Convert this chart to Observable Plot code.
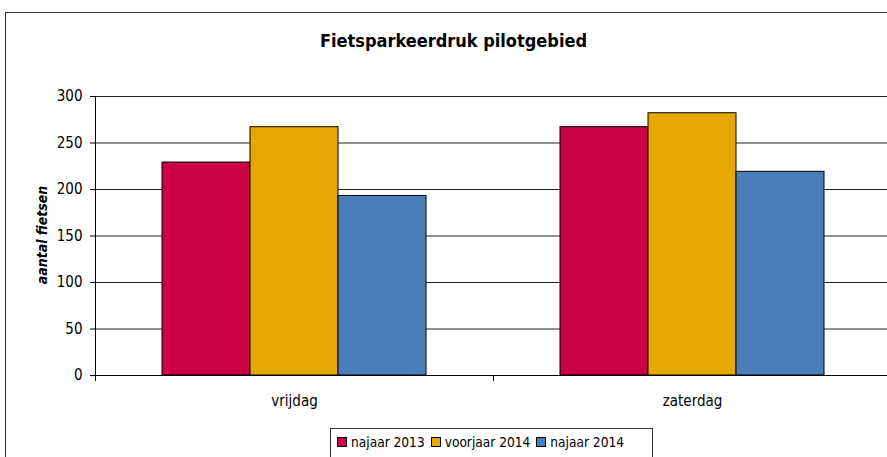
<!DOCTYPE html>
<html>
<head>
<meta charset="utf-8">
<script src="https://cdn.jsdelivr.net/npm/d3@7"></script>
<script src="https://cdn.jsdelivr.net/npm/@observablehq/plot@0.6"></script>
<style>
  html, body { margin: 0; padding: 0; background: #fff; }
  #wrap { position: relative; width: 887px; height: 457px; overflow: hidden; font-family: "DejaVu Sans Condensed", "DejaVu Sans", sans-serif; }
  #border { position: absolute; left: 5px; top: 12px; width: 950px; height: 520px; border: 1.5px solid #333; box-sizing: border-box; }
  #title { position: absolute; left: 0; width: 907px; top: 30px; text-align: center; font-weight: bold; font-size: 18px; color: #000; }
  #ylabel { position: absolute; left: 42px; top: 235px; transform: translate(-50%, -50%) rotate(-90deg); font-weight: bold; font-style: italic; font-size: 14px; white-space: nowrap; color: #000; }
  #legend { position: absolute; left: 330px; top: 428px; width: 323px; height: 40px; border: 1px solid #333; box-sizing: border-box; display: flex; gap: 0; padding: 4px 0 0 6px; font-size: 13.6px; }
  #legend .item { display: flex; align-items: center; margin-right: 6px; height: 18px; }
  #legend .sw { width: 8px; height: 8px; border: 1px solid #000; margin-right: 4px; }
  #chart { position: absolute; left: 0; top: 0; }
  #chart svg text { font-size: 15px; }
</style>
</head>
<body>
<div id="wrap">
  <div id="border"></div>
  <div id="chart"></div>
  <div id="title">Fietsparkeerdruk pilotgebied</div>
  <div id="ylabel">aantal fietsen</div>
  <div id="legend"></div>
</div>
<script>
const categories = ["vrijdag", "zaterdag"];
const series = ["najaar 2013", "voorjaar 2014", "najaar 2014"];
const najaar2013 = [229, 267];
const voorjaar2014 = [267, 282];
const najaar2014 = [193, 219];
const colors = ["#CC0044", "#E6A800", "#4A7EBB"];
const yTicks = [0, 50, 100, 150, 200, 250, 300];

const values = [najaar2013, voorjaar2014, najaar2014];
const data = [];
categories.forEach((c, ci) => series.forEach((s, si) => data.push({cat: c, series: s, value: values[si][ci]})));

const chart = Plot.plot({
  width: 887,
  height: 457,
  marginTop: 96,
  marginBottom: 82,
  marginLeft: 95,
  marginRight: 0,
  style: {fontFamily: "'DejaVu Sans Condensed', 'DejaVu Sans', sans-serif", fontSize: "15px", color: "#000", background: "transparent"},
  fx: {domain: categories, range: [95, 891], paddingInner: 0, paddingOuter: 0, label: null, axis: null},
  x: {domain: series, paddingInner: 0, paddingOuter: 0.745, axis: null},
  y: {domain: [0, 300], ticks: yTicks, label: null, axis: null},
  color: {domain: series, range: colors},
  marks: [
    Plot.gridY(yTicks.filter(d => d > 0), {stroke: "#222", strokeOpacity: 1, strokeWidth: 1}),
    Plot.barY(data, {fx: "cat", x: "series", y: "value", fill: "series", stroke: "#000", strokeWidth: 1}),
    Plot.ruleY([0], {stroke: "#000", strokeWidth: 1}),
    Plot.frame({anchor: "left", fx: ["vrijdag"], stroke: "#000", insetBottom: -5}),
    Plot.frame({anchor: "left", fx: ["zaterdag"], stroke: "#000", insetTop: 279, insetBottom: -5}),
    Plot.axisY({ticks: yTicks, tickSize: 5, tickPadding: 8, fontSize: 15, anchor: "left", fx: ["vrijdag"], label: null, stroke: "#000"}),
    Plot.axisFx({anchor: "bottom", tickSize: 0, tickPadding: 20, fontSize: 15, label: null})
  ]
});
document.getElementById("chart").appendChild(chart);

const leg = document.getElementById("legend");
series.forEach((s, i) => {
  const it = document.createElement("div");
  it.className = "item";
  it.innerHTML = `<div class="sw" style="background:${colors[i]}"></div><span>${s}</span>`;
  leg.appendChild(it);
});
</script>
</body>
</html>
